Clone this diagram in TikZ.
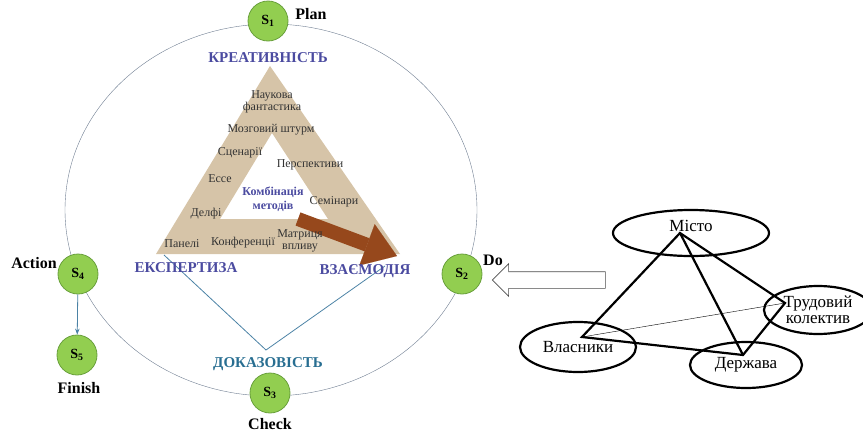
\documentclass[tikz,border=0pt]{standalone}
\usepackage{fontspec}
\setmainfont{Liberation Serif}
\usetikzlibrary{arrows.meta,shapes.geometric,shapes.arrows}
\definecolor{sgreen}{RGB}{146,206,80}
\definecolor{sline}{RGB}{105,160,60}
\definecolor{beige}{RGB}{214,196,168}
\definecolor{kbrown}{RGB}{150,72,28}
\definecolor{kblue}{RGB}{75,75,160}
\definecolor{kteal}{RGB}{40,110,145}
\definecolor{ringc}{RGB}{110,125,145}
\definecolor{vblue}{RGB}{75,130,165}
\begin{document}
\begin{tikzpicture}[x=1pt, y=-1pt, thick,
	stage/.style={circle, draw=sline, fill=sgreen, minimum size=40, inner sep=0, font=\fontsize{14}{14}\selectfont\bfseries},
	phase/.style={font=\fontsize{16}{16}\selectfont\bfseries},
	method/.style={font=\fontsize{12}{12}\selectfont, align=center, inner sep=0, text=black!80},
	corner/.style={font=\fontsize{15}{15}\selectfont\bfseries, text=kblue},
	actor/.style={ellipse, draw, line width=2.2, inner sep=0, align=center, font=\fontsize{17}{16}\selectfont}]
		\useasboundingbox (0,0) rectangle (863,434);
		\draw[ringc, thin] (271,210) ellipse [x radius=206, y radius=186];
		\fill[beige, even odd rule] (270,66) -- (156,254) -- (400,254) -- cycle
			(272,133) -- (220,219) -- (328,219) -- cycle;
		\coordinate (b1) at (298,219);
		\coordinate (b2) at (397,256);
		\draw[kbrown, line width=14, -{Triangle[length=32, width=44, line width=0.1pt]}] (b1) -- (b2);
		\node[method] (n1) at (272,102) {Наукова\\фантастика};
		\node[method] (n2) at (271,130) {Мозговий штурм};
		\node[method] (n3) at (240,153) {Сценарії};
		\node[method] (n4) at (310,165) {Перспективи};
		\node[method] (n5) at (220,179) {Ессе};
		\node[method] (n6) at (334,202) {Семінари};
		\node[method] (n7) at (206,214) {Делфі};
		\node[method] (n8) at (182,244) {Панелі};
		\node[method] (n9) at (243,243) {Конференції};
		\node[method] (n10) at (300,241) {Матриця\\впливу};
		\node[method, text=kblue, font=\fontsize{12}{14}\selectfont\bfseries] (k) at (273,199) {Комбінація\\методів};
		\coordinate (e1) at (164,255);
		\coordinate (e2) at (385,266);
		\coordinate (dk) at (266,350);
		\draw[vblue] (e1) -- (dk) -- (e2);
		\node[corner] (c1) at (268,58) {КРЕАТИВНІСТЬ};
		\node[corner] (c2) at (186,268) {ЕКСПЕРТИЗА};
		\node[corner] (c3) at (365,271) {ВЗАЄМОДІЯ};
		\node[corner, text=kteal] (c4) at (268,364) {ДОКАЗОВІСТЬ};
		\node[stage] (s1) at (268,21) {S\textsubscript{1}};
		\node[stage] (s2) at (462,274) {S\textsubscript{2}};
		\node[stage] (s3) at (270,393) {S\textsubscript{3}};
		\node[stage] (s4) at (78,274) {S\textsubscript{4}};
		\node[stage] (s5) at (77,355) {S\textsubscript{5}};
		\draw[vblue, -{Stealth[length=6]}] (s4) -- (s5);
		\node[phase] (l1) at (311,14) {Plan};
		\node[phase] (l2) at (493,260) {Do};
		\node[phase] (l3) at (270,424) {Check};
		\node[phase] (l4) at (34,263) {Action};
		\node[phase] (l5) at (79,388) {Finish};
		\node[single arrow, draw=black!70, semithick, shape border rotate=180, minimum height=113, minimum width=32,
			single arrow head extend=8, inner sep=8] (big) at (553,280) {};
		\node[actor, minimum width=156, minimum height=46, text depth=14] (m) at (691,233) {Місто};
		\node[actor, minimum width=108, minimum height=48] (t) at (818,310) {Трудовий\\колектив};
		\node[actor, minimum width=116, minimum height=50] (v) at (578,347) {Власники};
		\node[actor, minimum width=112, minimum height=46] (d) at (746,365) {Держава};
		\coordinate (pm) at (680,233);
		\coordinate (pv) at (582,337);
		\coordinate (pd) at (743,355);
		\coordinate (pt) at (785,303);
		\draw[line width=2.2, line join=miter] (pm) -- (pv) -- (pd) -- (pt) -- cycle;
		\draw[line width=2.2] (pm) -- (pd);
		\draw[thin] (pv) -- (pt);
\end{tikzpicture}
\end{document}
